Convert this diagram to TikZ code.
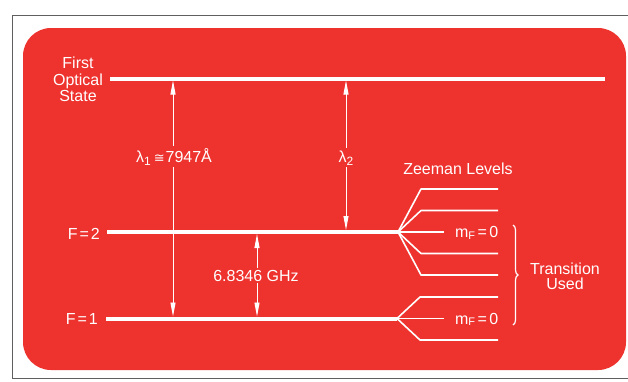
\documentclass[tikz,border=0pt]{standalone}
\usepackage{fontspec}
\setmainfont{Liberation Sans}
\newfontfamily\dvsym{DejaVu Sans}
\usetikzlibrary{arrows.meta,decorations.pathreplacing}
\definecolor{bgred}{RGB}{238,50,46}
\definecolor{framegray}{RGB}{95,95,95}
\begin{document}
\begin{tikzpicture}[x=1pt,y=-1pt,
  lbl/.style={text=white,font=\fontsize{16}{16.3}\selectfont,inner sep=0pt},
  level/.style={white,line width=4pt,line cap=butt},
  zee/.style={white,line width=1.6pt,line join=round},
  dim/.style={white,line width=0.9pt,{Triangle[length=14pt,width=5pt]}-{Triangle[length=14pt,width=5pt]}},
  gaplbl/.style={lbl,fill=bgred,inner sep=2pt}]
\useasboundingbox (0,0) rectangle (628,381);
\fill[white] (0,0) rectangle (628,381);
\draw[framegray,line width=0.8pt] (628,15) -- (12,15) -- (12,378) -- (628,378);
\fill[bgred,rounded corners=28pt] (23,28) rectangle (626,370);

% energy levels
\coordinate (S1L) at (110,78.5);  \coordinate (S1R) at (605,78.5);
\coordinate (F2L) at (107,232);   \coordinate (B2) at (398,232);
\coordinate (F1L) at (106,318.5); \coordinate (B1) at (397,318.5);
\draw[level] (S1L) -- (S1R);
\draw[level] (F2L) -- (B2);
\draw[level] (F1L) -- (B1);

% Zeeman levels of F=2
\draw[zee] (B2) -- (421,189) -- (498,189);
\draw[zee] (B2) -- (421,210.5) -- (498,210.5);
\draw[zee] (B2) -- (444,232);
\draw[zee] (B2) -- (421,253.5) -- (498,253.5);
\draw[zee] (B2) -- (421,275) -- (498,275);
% Zeeman levels of F=1
\draw[zee] (B1) -- (420,297) -- (498,297);
\draw[zee] (B1) -- (444,318.5);
\draw[zee] (B1) -- (420,340) -- (498,340);

% transition arrows
\coordinate (A1t) at (173,80.5);  \coordinate (A1b) at (173,316.5);
\coordinate (A2t) at (346,80.5);  \coordinate (A2b) at (346,230);
\coordinate (A3t) at (257,234);   \coordinate (A3b) at (257,316.5);
\draw[dim] (A1t) -- (A1b);
\draw[dim] (A2t) -- (A2b);
\draw[dim] (A3t) -- (A3b);

\node[gaplbl,anchor=base] (lam1) at (174,162)
  {λ\raisebox{-3pt}{\fontsize{12}{12}\selectfont 1}\hspace{3pt}{\dvsym\fontsize{13}{13}\selectfont ≅}\hspace{1pt}7947Å};
\node[gaplbl,anchor=base] (lam2) at (346,162)
  {λ\raisebox{-3pt}{\fontsize{12}{12}\selectfont 2}};
\node[gaplbl,anchor=base] (freq) at (256,281) {6.8346 GHz};

% labels
\node[lbl,align=center,anchor=base] (first) at (78,101.5) {First\\Optical\\State};
\node[lbl,anchor=base east] (f2) at (100,239) {F\hspace{2pt}=\hspace{2pt}2};
\node[lbl,anchor=base east] (f1) at (98,324) {F\hspace{2pt}=\hspace{2pt}1};
\node[lbl,anchor=base] (zeeman) at (458,174) {Zeeman Levels};
\node[lbl,anchor=base east] (m2) at (498.5,237.5)
  {m\raisebox{-1.5pt}{\fontsize{11}{11}\selectfont F}\hspace{2.5pt}=\hspace{2.5pt}0};
\node[lbl,anchor=base east] (m1) at (498.5,324)
  {m\raisebox{-1.5pt}{\fontsize{11}{11}\selectfont F}\hspace{2.5pt}=\hspace{2.5pt}0};
\draw[white,line width=1.2pt,decorate,decoration={brace,amplitude=5pt}] (513,225) -- (513,325);
\node[lbl,align=center,anchor=base,font=\fontsize{16}{15}\selectfont] (trans) at (565,289.3) {Transition\\Used};
\end{tikzpicture}
\end{document}
